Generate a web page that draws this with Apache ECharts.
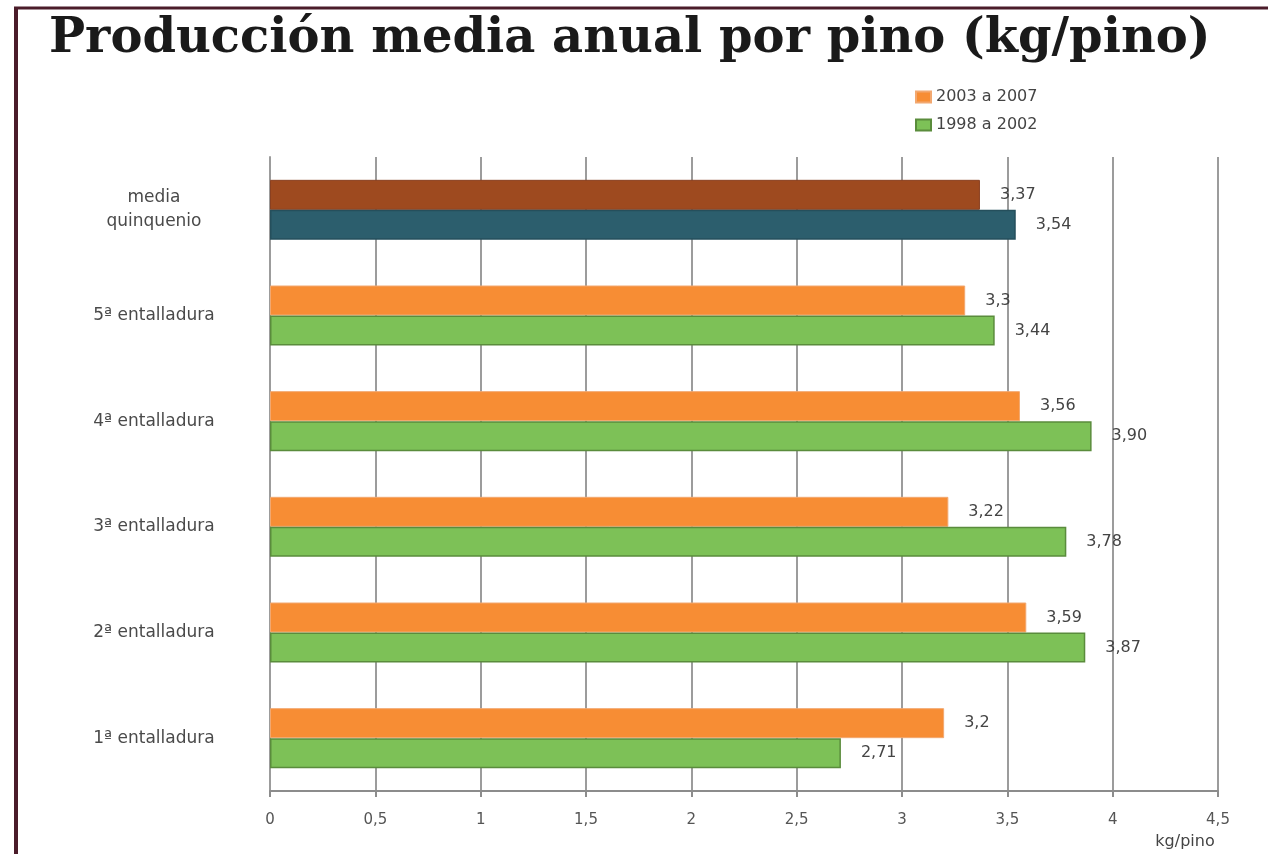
<!DOCTYPE html>
<html>
<head>
<meta charset="utf-8">
<script src="https://cdn.jsdelivr.net/npm/echarts@6/dist/echarts.min.js"></script>
<style>
html,body{margin:0;padding:0;background:#fff;}
#main{width:1268px;height:854px;}
</style>
</head>
<body>
<div id="main"></div>
<script>
// ---- data ----
var categories = ['media\nquinquenio', '5ª entalladura', '4ª entalladura', '3ª entalladura', '2ª entalladura', '1ª entalladura'];
var seriesNames = ['2003 a 2007', '1998 a 2002'];
var values2003 = [3.37, 3.3, 3.56, 3.22, 3.59, 3.2];
var values1998 = [3.54, 3.44, 3.90, 3.78, 3.87, 2.71];
var labels2003 = ['3,37', '3,3', '3,56', '3,22', '3,59', '3,2'];
var labels1998 = ['3,54', '3,44', '3,90', '3,78', '3,87', '2,71'];
var tickLabels = ['0', '0,5', '1', '1,5', '2', '2,5', '3', '3,5', '4', '4,5'];

var chart = echarts.init(document.getElementById('main'));

function buildData(vals, specialColor, specialBorder) {
  return vals.map(function (v, i) {
    if (i === 0) {
      return { value: v, itemStyle: { color: specialColor, borderColor: specialBorder } };
    }
    return v;
  });
}

var labelFont = 'DejaVu Sans';

chart.setOption({
  animation: false,
  backgroundColor: '#ffffff',
  title: {
    text: 'Producción media anual por pino (kg/pino)',
    left: 44,
    top: 11,
    textStyle: { fontFamily: 'DejaVu Serif', fontSize: 48, fontWeight: 'bold', color: '#1a1a1a' }
  },
  legend: {
    orient: 'vertical',
    left: 910,
    top: 84,
    icon: 'rect',
    itemWidth: 15,
    itemHeight: 11,
    itemGap: 12,
    textStyle: { fontFamily: labelFont, fontSize: 16, color: '#444' },
    data: seriesNames
  },
  grid: { left: 270, right: 50, top: 157, bottom: 63 },
  xAxis: {
    type: 'value',
    min: 0,
    max: 4.5,
    interval: 0.5,
    name: 'kg/pino',
    nameLocation: 'end',
    nameGap: -33,
    nameTextStyle: { fontFamily: labelFont, fontSize: 16, color: '#444', align: 'center', verticalAlign: 'top', padding: [43, 0, 0, 0] },
    axisLine: { show: true, lineStyle: { color: '#8c8c8c', width: 2 } },
    axisTick: { show: true, length: 6, lineStyle: { color: '#8c8c8c', width: 2 } },
    axisLabel: {
      margin: 22,
      fontFamily: labelFont, fontSize: 15, color: '#555',
      formatter: function (v) { return tickLabels[Math.round(v / 0.5)]; }
    },
    splitLine: { show: true, lineStyle: { color: '#9c9c9c', width: 2 } }
  },
  yAxis: {
    type: 'category',
    inverse: true,
    data: categories,
    axisLine: { show: true, lineStyle: { color: '#9c9c9c', width: 2 } },
    axisTick: { show: false },
    axisLabel: {
      margin: 116,
      align: 'center',
      fontFamily: labelFont, fontSize: 17, color: '#4a4a4a', lineHeight: 24
    }
  },
  series: [
    {
      name: seriesNames[0],
      type: 'bar',
      barWidth: 30,
      barGap: '0%',
      itemStyle: { color: '#F78D34', borderColor: '#F2A870', borderWidth: 1 },
      label: {
        show: true, position: 'right', distance: 20,
        fontFamily: labelFont, fontSize: 16, color: '#444',
        formatter: function (p) { return labels2003[p.dataIndex]; }
      },
      data: buildData(values2003, '#9E4A1F', '#8A4020')
    },
    {
      name: seriesNames[1],
      type: 'bar',
      barWidth: 30,
      barGap: '0%',
      itemStyle: { color: '#7DC157', borderColor: '#5A8C3C', borderWidth: 1.5 },
      label: {
        show: true, position: 'right', distance: 20,
        fontFamily: labelFont, fontSize: 16, color: '#444',
        formatter: function (p) { return labels1998[p.dataIndex]; }
      },
      data: buildData(values1998, '#2C5E6D', '#254F5C')
    }
  ],
  graphic: [
    { type: 'line', shape: { x1: 14, y1: 8, x2: 1268, y2: 8 }, style: { stroke: '#4B1C2A', lineWidth: 3 } },
    { type: 'line', shape: { x1: 16, y1: 7, x2: 16, y2: 854 }, style: { stroke: '#4B1C2A', lineWidth: 4 } }
  ]
});
</script>
</body>
</html>
